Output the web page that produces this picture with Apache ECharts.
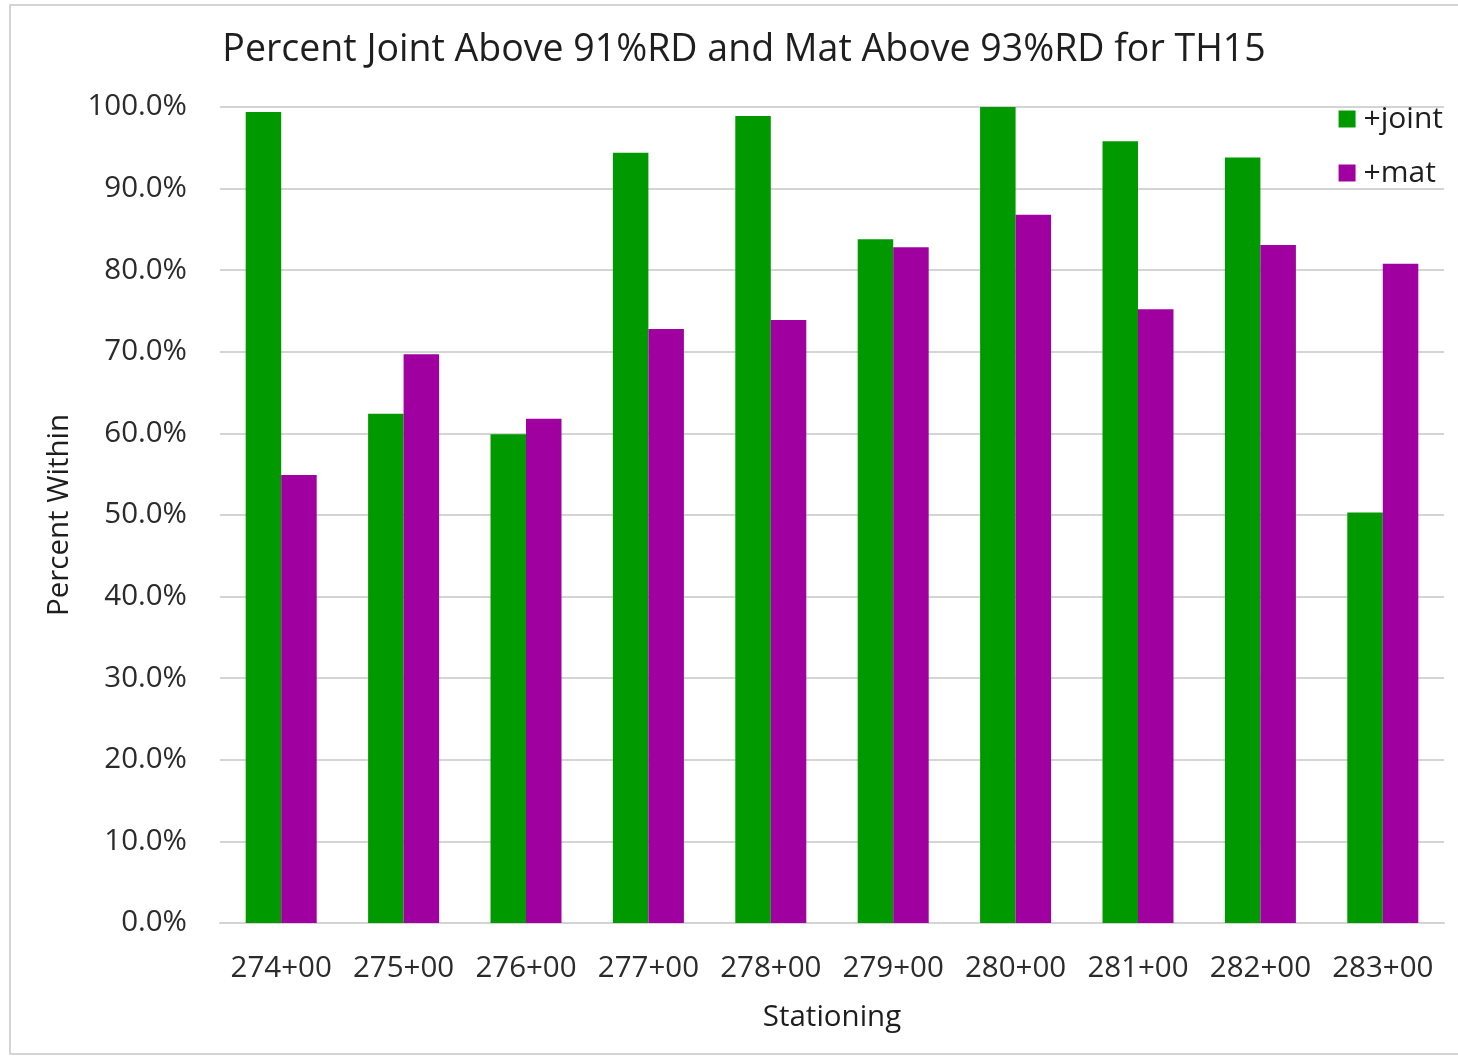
<!DOCTYPE html>
<html>
<head>
<meta charset="utf-8">
<script src="https://cdn.jsdelivr.net/npm/echarts@6/dist/echarts.min.js"></script>
<style>
  html, body { margin: 0; padding: 0; background: #ffffff; }
  #chart { width: 1458px; height: 1058px; }
</style>
</head>
<body>
<div id="chart"></div>
<script>
// Stationing along TH15
const stations = ['274+00', '275+00', '276+00', '277+00', '278+00', '279+00', '280+00', '281+00', '282+00', '283+00'];
// Percent of joint readings above 91% RD
const jointPct = [99.4, 62.4, 59.9, 94.4, 98.9, 83.8, 100.0, 95.8, 93.8, 50.3];
// Percent of mat readings above 93% RD
const matPct = [54.9, 69.7, 61.8, 72.8, 73.9, 82.8, 86.8, 75.2, 83.1, 80.8];
const yTicks = { min: 0, max: 100, step: 10 };

const font = 'Open Sans';
const textColor = '#2b2b2b';

const chart = echarts.init(document.getElementById('chart'), null, { renderer: 'canvas' });
chart.setOption({
  backgroundColor: '#ffffff',
  animation: false,
  textStyle: { fontFamily: font },
  graphic: [{
    type: 'rect',
    shape: { x: 10, y: 5, width: 1470, height: 1049 },
    style: { fill: 'none', stroke: '#c8c8c8', lineWidth: 1.5 },
    silent: true,
    z: -1
  }],
  title: {
    text: 'Percent Joint Above 91%RD and Mat Above 93%RD for TH15',
    left: 739,
    top: 26,
    textAlign: 'center',
    textStyle: { fontFamily: font, fontSize: 37.5, fontWeight: 'normal', color: '#1e1e1e' }
  },
  legend: {
    orient: 'vertical',
    right: 10,
    top: 99,
    icon: 'rect',
    itemWidth: 17,
    itemHeight: 17,
    itemGap: 24,
    textStyle: { fontFamily: font, fontSize: 30, color: '#1e1e1e', padding: [0, 0, 0, 3] },
    data: ['+joint', '+mat']
  },
  grid: { left: 220, right: 14, top: 107, bottom: 135, containLabel: false },
  xAxis: {
    type: 'category',
    data: stations,
    name: 'Stationing',
    nameLocation: 'middle',
    nameGap: 80,
    nameTextStyle: { fontFamily: font, fontSize: 29.5, color: '#1e1e1e' },
    axisLine: { show: true, lineStyle: { color: '#d4d4d4', width: 2 } },
    axisTick: { show: false },
    axisLabel: { fontFamily: font, fontSize: 29.5, color: textColor, margin: 31, interval: 0 }
  },
  yAxis: {
    type: 'value',
    min: yTicks.min,
    max: yTicks.max,
    interval: yTicks.step,
    name: 'Percent Within',
    nameLocation: 'middle',
    nameGap: 145,
    nameRotate: 90,
    nameTextStyle: { fontFamily: font, fontSize: 29.5, color: '#1e1e1e' },
    axisLine: { show: false },
    axisTick: { show: false },
    splitLine: { lineStyle: { color: '#d4d4d4', width: 2 } },
    axisLabel: {
      fontFamily: font, fontSize: 29.5, color: textColor, margin: 33,
      formatter: v => v.toFixed(1) + '%'
    }
  },
  series: [
    {
      name: '+joint',
      type: 'bar',
      data: jointPct,
      barWidth: 35.5,
      barGap: '0%',
      itemStyle: { color: '#009a00' }
    },
    {
      name: '+mat',
      type: 'bar',
      data: matPct,
      barWidth: 35.5,
      barGap: '0%',
      itemStyle: { color: '#a000a0' }
    }
  ]
});
</script>
</body>
</html>
